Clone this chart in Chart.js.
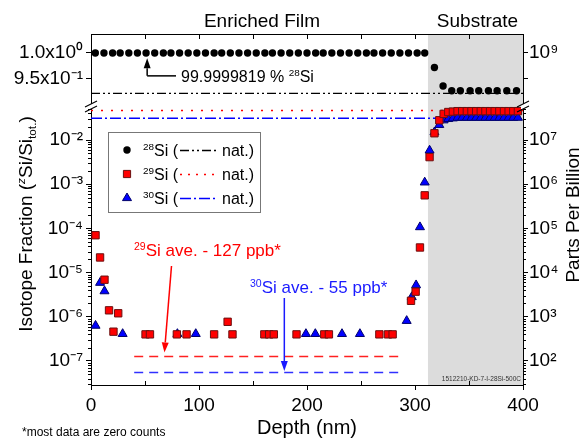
<!DOCTYPE html>
<html>
<head>
<meta charset="utf-8">
<script src="https://cdn.jsdelivr.net/npm/chart.js@4.4.0/dist/chart.umd.min.js"></script>
<style>
  html, body { margin: 0; padding: 0; background: #fff; }
  #wrap { width: 585px; height: 438px; position: relative; }
</style>
</head>
<body>
<div id="wrap"><canvas id="myChart"></canvas></div>
<script>
// depth (nm) and isotope fraction
const si28Depth = [4, 12, 20, 27, 35, 43, 51, 59, 67, 74, 82, 90, 98, 106, 114, 121, 129, 137, 145, 153,
    161, 168, 176, 184, 192, 200, 208, 215, 223, 231, 239, 247, 255, 262, 270, 278, 286, 294, 302, 309,
    318, 326, 334, 342, 351, 359, 368, 376, 385, 394];
const si28Frac = [1, 1, 1, 1, 1, 1, 1, 1, 1, 1, 1, 1, 1, 1, 1, 1, 1, 1, 1, 1,
    1, 1, 1, 1, 1, 1, 1, 1, 1, 1, 1, 1, 1, 1, 1, 1, 1, 1, 1, 1,
    0.972, 0.9365, 0.9275, 0.9275, 0.9275, 0.9275, 0.9275, 0.9275, 0.9275, 0.9275];

const si29Depth = [4.2, 8.4, 12.5, 16.7, 20.8, 25.2, 50.5, 54.6, 79.5, 88.5, 114, 126.5, 131, 160.5, 165, 169.3,
    190.3, 216, 220.3, 267, 275, 279.3, 296.3, 300.6, 304.6, 309, 313.5, 318, 322.5, 326.5,
    330.8, 335.1, 339.4, 343.7, 348, 352.3, 356.6, 360.9, 365.2, 369.5, 373.8, 378.1, 382.4, 386.7, 391, 395.3];
const si29Frac = [7.0e-5, 2.2e-5, 6.9e-6, 1.4e-6, 4.6e-7, 1.2e-6, 4.0e-7, 4.0e-7, 4.0e-7, 4.0e-7, 4.0e-7, 7.7e-7, 4.0e-7, 4.0e-7, 4.0e-7, 4.0e-7,
    4.0e-7, 4.0e-7, 4.0e-7, 4.0e-7, 4.0e-7, 4.0e-7, 2.3e-6, 3.7e-6, 3.7e-5, 5.6e-4, 4.1e-3, 1.42e-2, 2.8e-2, 3.9e-2,
    4.3e-2, 4.4e-2, 4.5e-2, 4.5e-2, 4.5e-2, 4.5e-2, 4.5e-2, 4.5e-2, 4.5e-2, 4.5e-2, 4.5e-2, 4.5e-2, 4.5e-2, 4.5e-2, 4.5e-2, 4.5e-2];

const si30Depth = [4.2, 8.4, 12.5, 29.3, 80, 97, 199, 207.7, 232.4, 249, 292.3, 297, 301, 304.6, 309, 313.5, 318, 322.5, 326.5,
    330.8, 335.1, 339.4, 343.7, 348, 352.3, 356.6, 360.9, 365.2, 369.5, 373.8, 378.1, 382.4, 386.7, 391, 395.3];
const si30Frac = [6.3e-7, 5.9e-6, 3.8e-6, 4.1e-7, 4.1e-7, 4.1e-7, 4.1e-7, 4.1e-7, 4.1e-7, 4.1e-7, 8.1e-7, 2.8e-6, 5.2e-6, 1.07e-4, 1.1e-3, 5.8e-3, 1.5e-2, 2.2e-2, 2.8e-2,
    3.0e-2, 3.1e-2, 3.2e-2, 3.2e-2, 3.2e-2, 3.2e-2, 3.2e-2, 3.2e-2, 3.2e-2, 3.2e-2, 3.2e-2, 3.2e-2, 3.2e-2, 3.2e-2, 3.2e-2, 3.2e-2];

// natural abundances 28/29/30 and film averages 29/30
const natFrac = [0.9223, 0.0467, 0.031];
const natSpan = [0, 400];
const aveFrac = [1.27e-7, 5.5e-8];
const aveSpan = [40, 290];
const substrateStart = 312;

const logTicks = [1e-7, 1e-6, 1e-5, 1e-4, 1e-3, 1e-2];
const linTicks = [0.95, 1.0];
const linLabels = ['9.5x10\u207B\u00B9', '1.0x10\u2070'];

const FONT = "'Liberation Sans', Arial, sans-serif";
const SUP = {'0':'\u2070','1':'\u00B9','2':'\u00B2','3':'\u00B3','4':'\u2074','5':'\u2075','6':'\u2076','7':'\u2077','8':'\u2078','9':'\u2079','-':'\u207B'};
const sup = n => String(n).split('').map(c => SUP[c]).join('');

function pts(xs, ys) {
    return xs.map((x, i) => ({ x: x, y: ys[i] }));
}

function yAxis(extra) {
    const base = {
        bounds: 'data',
        grid: { drawOnChartArea: false, tickLength: 5, color: '#000', lineWidth: 1 },
        border: { color: '#000', width: 1 },
    };
    return Object.assign(base, extra);
}

function tickFont(pad, cb) {
    return { color: '#000', font: { family: FONT, size: 19 }, padding: pad, autoSkip: false, callback: cb };
}

// rich text: runs of [text, kind]; kind 0 normal, 1 sup, 2 sub, 3 italic sup
function rich(ctx, runs, x, y, size, align) {
    const small = size * 0.62;
    const fontOf = k => (k === 3 ? 'italic ' : '') + (k ? small : size) + 'px ' + FONT;
    let w = 0;
    runs.forEach(r => { ctx.font = fontOf(r[1]); w += ctx.measureText(r[0]).width; });
    let cx = align === 'center' ? x - w / 2 : (align === 'right' ? x - w : x);
    ctx.textAlign = 'left';
    ctx.textBaseline = 'alphabetic';
    runs.forEach(r => {
        ctx.font = fontOf(r[1]);
        const dy = (r[1] === 1 || r[1] === 3) ? -size * 0.36 : (r[1] === 2 ? size * 0.22 : 0);
        ctx.fillText(r[0], cx, y + dy);
        cx += ctx.measureText(r[0]).width;
    });
}

function line(ctx, x1, y1, x2, y2) {
    ctx.beginPath();
    ctx.moveTo(x1, y1);
    ctx.lineTo(x2, y2);
    ctx.stroke();
}

function arrow(ctx, x1, y1, x2, y2, color) {
    const ang = Math.atan2(y2 - y1, x2 - x1);
    const hl = 10, hw = 3.5;
    const bx = x2 - hl * Math.cos(ang), by = y2 - hl * Math.sin(ang);
    ctx.strokeStyle = color;
    ctx.fillStyle = color;
    ctx.lineWidth = 1.5;
    line(ctx, x1, y1, bx, by);
    ctx.beginPath();
    ctx.moveTo(x2, y2);
    ctx.lineTo(bx + hw * Math.sin(ang), by - hw * Math.cos(ang));
    ctx.lineTo(bx - hw * Math.sin(ang), by + hw * Math.cos(ang));
    ctx.closePath();
    ctx.fill();
}

function marker(ctx, kind, x, y) {
    ctx.beginPath();
    if (kind === 0) {
        ctx.fillStyle = '#000';
        ctx.arc(x, y, 3.7, 0, Math.PI * 2);
        ctx.fill();
        return;
    }
    if (kind === 1) {
        ctx.fillStyle = '#ff0000';
        ctx.strokeStyle = '#6a1010';
        ctx.rect(x - 3.6, y - 3.6, 7.2, 7.2);
    } else {
        ctx.fillStyle = '#0000ff';
        ctx.strokeStyle = '#00006a';
        ctx.moveTo(x, y - 5);
        ctx.lineTo(x + 4.5, y + 2.6);
        ctx.lineTo(x - 4.5, y + 2.6);
        ctx.closePath();
    }
    ctx.lineWidth = 1;
    ctx.fill();
    ctx.stroke();
}

function breakMark(ctx, x, y) {
    ctx.fillStyle = '#fff';
    ctx.fillRect(x - 2, y - 2.5, 4, 5);
    ctx.strokeStyle = '#000';
    ctx.lineWidth = 1.2;
    [-2.5, 2.5].forEach(o => line(ctx, x - 6, y + o + 3, x + 6, y + o - 3));
}

const decorations = {
    id: 'decorations',
    beforeDatasetsDraw(chart) {
        const { ctx, chartArea: a, scales: s } = chart;
        const xs = s.x.getPixelForValue(substrateStart);
        ctx.save();
        ctx.fillStyle = '#dcdcdc';
        ctx.fillRect(xs, a.top, a.right - xs, a.bottom - a.top);
        ctx.restore();
    },
    afterDatasetsDraw(chart) {
        const { ctx, chartArea: a, scales: s } = chart;
        ctx.save();
        ctx.strokeStyle = '#000';
        ctx.lineWidth = 1;

        // frame top + right
        line(ctx, a.left, a.top + 0.5, a.right + 0.5, a.top + 0.5);
        line(ctx, a.right + 0.5, a.top, a.right + 0.5, a.bottom);

        // x minor ticks (bottom inward) and top ticks
        for (let v = 50; v < 400; v += 50) {
            const px = Math.round(s.x.getPixelForValue(v)) + 0.5;
            line(ctx, px, a.top, px, a.top + 5);
            if (v % 100) line(ctx, px, a.bottom, px, a.bottom - 4);
        }

        // log minor ticks, both sides
        const yb = s.yBot;
        for (let e = -9; e <= -1; e++) {
            for (let m = 2; m <= 9; m++) {
                const v = m * Math.pow(10, e);
                if (v < yb.min || v > yb.max) continue;
                const py = Math.round(yb.getPixelForValue(v)) + 0.5;
                line(ctx, a.left - 3, py, a.left, py);
                line(ctx, a.right, py, a.right + 3, py);
            }
        }

        // axis breaks
        const yBreak = s.yTop.bottom;
        breakMark(ctx, a.left, yBreak);
        breakMark(ctx, a.right, yBreak);

        // region labels
        ctx.fillStyle = '#000';
        ctx.font = '19px ' + FONT;
        ctx.textAlign = 'center';
        ctx.textBaseline = 'alphabetic';
        ctx.fillText('Enriched Film', 262, 27);
        ctx.fillText('Substrate', 477.5, 27);

        // 28Si enrichment annotation
        const ax = s.x.getPixelForValue(52);
        const ay = s.yTop.getPixelForValue(0.956);
        ctx.strokeStyle = '#000';
        ctx.lineWidth = 1.5;
        line(ctx, 176, ay, ax, ay);
        arrow(ctx, ax, ay, ax, s.yTop.getPixelForValue(0.99), '#000');
        ctx.fillStyle = '#000';
        rich(ctx, [['99.9999819 % ', 0], ['28', 1], ['Si', 0]], 181, 82, 16, 'left');

        // averages
        ctx.fillStyle = '#ff0000';
        rich(ctx, [['29', 1], ['Si ave. - 127 ppb*', 0]], 134, 256, 17, 'left');
        arrow(ctx, 171.5, 266, s.x.getPixelForValue(68), yb.getPixelForValue(aveFrac[0]) - 4, '#ff0000');
        ctx.fillStyle = '#1a1aff';
        rich(ctx, [['30', 1], ['Si ave. - 55 ppb*', 0]], 250, 293, 17, 'left');
        const bx = s.x.getPixelForValue(179);
        arrow(ctx, bx, 298, bx, yb.getPixelForValue(aveFrac[1]) - 1.5, '#1a1aff');

        // legend
        ctx.fillStyle = '#fff';
        ctx.fillRect(108.5, 132.5, 152, 80);
        ctx.strokeStyle = '#777';
        ctx.lineWidth = 1;
        ctx.strokeRect(108.5, 132.5, 152, 80);
        const rows = [150, 174, 198];
        const styles = [['#000', [9, 3, 2, 3, 2, 3]], ['#ff0000', [2, 6]], ['#0000ff', [11, 3, 2, 3]]];
        ['28', '29', '30'].forEach((iso, i) => {
            const ry = rows[i];
            marker(ctx, i, 127, ry);
            ctx.fillStyle = '#000';
            rich(ctx, [[iso, 1], ['Si (', 0]], 143, ry + 6, 16, 'left');
            ctx.save();
            ctx.strokeStyle = styles[i][0];
            ctx.lineWidth = 1.5;
            ctx.setLineDash(styles[i][1]);
            line(ctx, 180, ry + 0.5, 216, ry + 0.5);
            ctx.restore();
            ctx.fillStyle = '#000';
            rich(ctx, [['nat.)', 0]], 222, ry + 6, 16, 'left');
        });

        // axis titles
        ctx.fillStyle = '#000';
        ctx.save();
        ctx.translate(32, 224);
        ctx.rotate(-Math.PI / 2);
        rich(ctx, [['Isotope Fraction (', 0], ['z', 3], ['Si/Si', 0], ['tot.', 2], [')', 0]], 0, 0, 19, 'center');
        ctx.restore();
        ctx.save();
        ctx.translate(579, 215);
        ctx.rotate(-Math.PI / 2);
        rich(ctx, [['Parts Per Billion', 0]], 0, 0, 19, 'center');
        ctx.restore();
        rich(ctx, [['Depth (nm)', 0]], (a.left + a.right) / 2, 434, 20, 'center');
        rich(ctx, [['*most data are zero counts', 0]], 22, 436, 12, 'left');

        ctx.fillStyle = '#333';
        rich(ctx, [['1512210-KD-7-I-28Si-500C', 0]], a.right - 2, 381, 6.5, 'right');
        ctx.restore();
    }
};

new Chart('myChart', {
    type: 'scatter',
    data: {
        datasets: [{
            data: pts(si28Depth, si28Frac),
            yAxisID: 'yTop',
            pointStyle: 'circle',
            pointRadius: 3.7,
            backgroundColor: '#000',
            borderColor: '#000',
            borderWidth: 0,
            order: 0
        }, {
            data: pts(si29Depth, si29Frac),
            yAxisID: 'yBot',
            pointStyle: 'rect',
            pointRadius: 5.2,
            backgroundColor: '#ff0000',
            borderColor: '#6a1010',
            borderWidth: 1,
            order: 1
        }, {
            data: pts(si30Depth, si30Frac),
            yAxisID: 'yBot',
            pointStyle: 'triangle',
            pointRadius: 5.2,
            backgroundColor: '#0000ff',
            borderColor: '#00006a',
            borderWidth: 1,
            order: 2
        }, {
            data: pts(natSpan, [natFrac[0], natFrac[0]]),
            yAxisID: 'yTop',
            showLine: true,
            pointRadius: 0,
            borderColor: '#000',
            borderWidth: 1.3,
            borderDash: [9, 3, 2, 3, 2, 3],
            order: 5
        }, {
            data: pts(natSpan, [natFrac[1], natFrac[1]]),
            yAxisID: 'yBot',
            showLine: true,
            pointRadius: 0,
            borderColor: '#ff0000',
            borderWidth: 1.5,
            borderDash: [2, 8],
            order: 5
        }, {
            data: pts(natSpan, [natFrac[2], natFrac[2]]),
            yAxisID: 'yBot',
            showLine: true,
            pointRadius: 0,
            borderColor: '#0000ff',
            borderWidth: 1.5,
            borderDash: [11, 3, 2, 3],
            order: 5
        }, {
            data: pts(aveSpan, [aveFrac[0], aveFrac[0]]),
            yAxisID: 'yBot',
            showLine: true,
            pointRadius: 0,
            borderColor: '#ff2020',
            borderWidth: 1.5,
            borderDash: [9, 6],
            order: 5
        }, {
            data: pts(aveSpan, [aveFrac[1], aveFrac[1]]),
            yAxisID: 'yBot',
            showLine: true,
            pointRadius: 0,
            borderColor: '#3030ff',
            borderWidth: 1.5,
            borderDash: [9, 6],
            order: 5
        }]
    },
    options: {
        animation: false,
        responsive: true,
        maintainAspectRatio: false,
        layout: { padding: { top: 34, left: 0, right: 0, bottom: 0 } },
        plugins: { legend: { display: false }, tooltip: { enabled: false } },
        scales: {
            x: {
                type: 'linear',
                min: 0,
                max: 400,
                bounds: 'data',
                grid: { drawOnChartArea: false, tickLength: 5, color: '#000' },
                border: { color: '#000', width: 1 },
                ticks: { color: '#000', font: { family: FONT, size: 19 }, padding: 4, stepSize: 100, maxRotation: 0 },
                afterFit: s => { s.height = 53; }
            },
            yBot: yAxis({
                type: 'logarithmic',
                position: 'left',
                stack: 'left',
                stackWeight: 278.5,
                min: 2.86e-8,
                max: 0.0573,
                afterBuildTicks: s => { s.ticks = logTicks.map(v => ({ value: v })); },
                ticks: tickFont(3, v => '10' + sup(Math.round(Math.log10(v)))),
                afterFit: s => { s.width = 91; }
            }),
            yTop: yAxis({
                type: 'linear',
                position: 'left',
                stack: 'left',
                stackWeight: 72.5,
                min: 0.8971,
                max: 1.0365,
                afterBuildTicks: s => { s.ticks = linTicks.map(v => ({ value: v })); },
                ticks: tickFont(3, (v, i) => linLabels[i]),
                afterFit: s => { s.width = 91; }
            }),
            yTopR: yAxis({
                type: 'linear',
                position: 'right',
                stack: 'right',
                stackWeight: 72.5,
                display: true,
                min: 0.8971e9,
                max: 1.0365e9,
                afterBuildTicks: s => { s.ticks = linTicks.map(v => ({ value: v * 1e9 })); },
                ticks: tickFont(1, (v, i) => (i === 1 ? '10' + sup(9) : '')),
                afterFit: s => { s.width = 62; }
            }),
            yBotR: yAxis({
                type: 'logarithmic',
                position: 'right',
                stack: 'right',
                stackWeight: 278.5,
                display: true,
                min: 2.86e1,
                max: 0.0573e9,
                afterBuildTicks: s => { s.ticks = logTicks.map(v => ({ value: v * 1e9 })); },
                ticks: tickFont(1, v => '10' + sup(Math.round(Math.log10(v)))),
                afterFit: s => { s.width = 62; }
            })
        }
    },
    plugins: [decorations]
});
</script>
</body>
</html>
